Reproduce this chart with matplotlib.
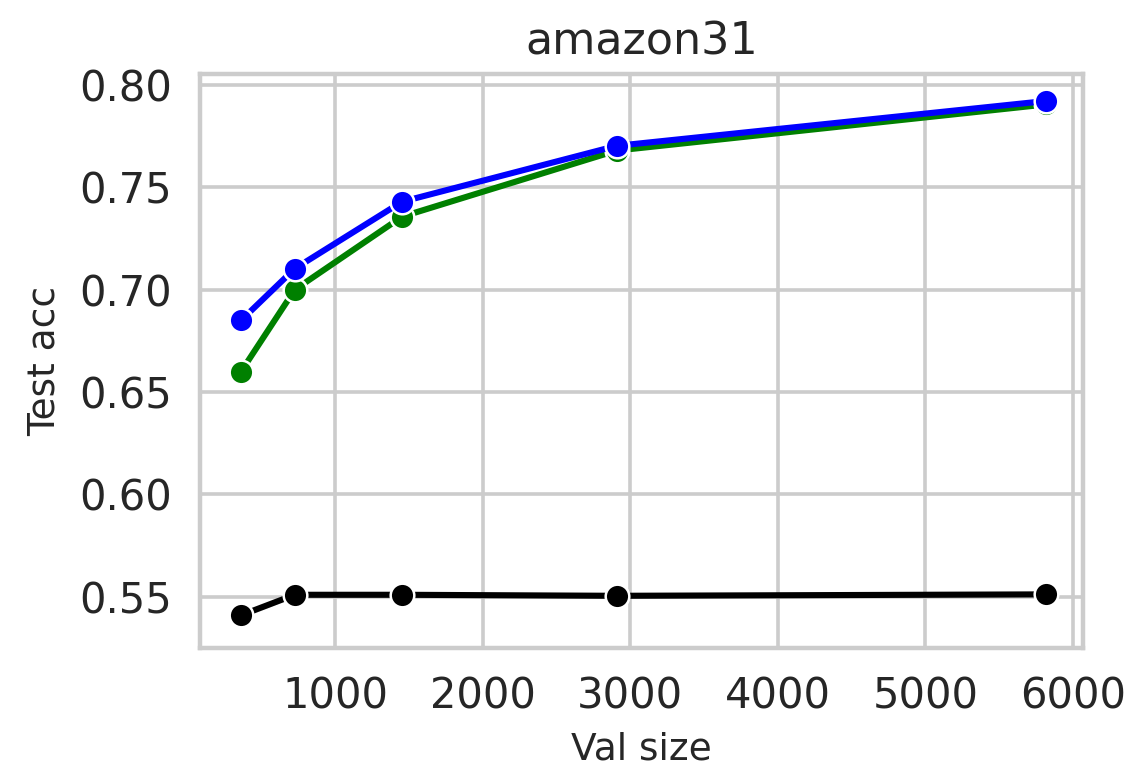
import matplotlib
matplotlib.use("Agg")
import matplotlib.pyplot as plt
import seaborn as sns

sns.set_theme(style="whitegrid")
plt.rcParams['font.family'] = ['DejaVu Sans']

val_size = [363, 727, 1454, 2908, 5816]

acc_black = [0.5410, 0.5510, 0.5510, 0.5505, 0.5512]
acc_green = [0.6600, 0.7000, 0.7357, 0.7680, 0.7905]
acc_blue = [0.6850, 0.7103, 0.7430, 0.7703, 0.7922]

band_black = [0.0015, 0.0010, 0.0010, 0.0010, 0.0010]
band_green = [0.0012, 0.0010, 0.0010, 0.0008, 0.0008]
band_blue = [0.0012, 0.0015, 0.0010, 0.0008, 0.0008]

series = [
    ("black", acc_black, band_black),
    ("green", acc_green, band_green),
    ("blue", acc_blue, band_blue),
]

fig = plt.figure(figsize=(5.655, 3.865), dpi=200)
ax = fig.add_axes([0.1768, 0.1617, 0.7808, 0.7426])

for color, acc, band in series:
    lo = [a - b for a, b in zip(acc, band)]
    hi = [a + b for a, b in zip(acc, band)]
    ax.fill_between(val_size, lo, hi, color=color, alpha=0.12, linewidth=0)
    ax.plot(val_size, acc, color=color, linewidth=2.2, marker="o",
            markersize=8.5, markeredgecolor="white", markeredgewidth=0.9)

ax.set_xlim(85, 6068)
ax.set_ylim(0.525, 0.8054)
ax.set_xticks([1000, 2000, 3000, 4000, 5000, 6000])
ax.set_yticks([0.55, 0.60, 0.65, 0.70, 0.75, 0.80])
ax.set_yticklabels(["0.55", "0.60", "0.65", "0.70", "0.75", "0.80"])
ax.tick_params(labelsize=15, pad=4)
ax.set_xlabel("Val size", fontsize=13.5, labelpad=5)
ax.set_ylabel("Test acc", fontsize=13.5, labelpad=6)
ax.set_title("amazon31", fontsize=16, pad=7)
ax.grid(True, color="#cccccc", linewidth=1.3)
for sp in ax.spines.values():
    sp.set_color("#cccccc")
    sp.set_linewidth(1.6)

fig.savefig("out.png", dpi=200)
